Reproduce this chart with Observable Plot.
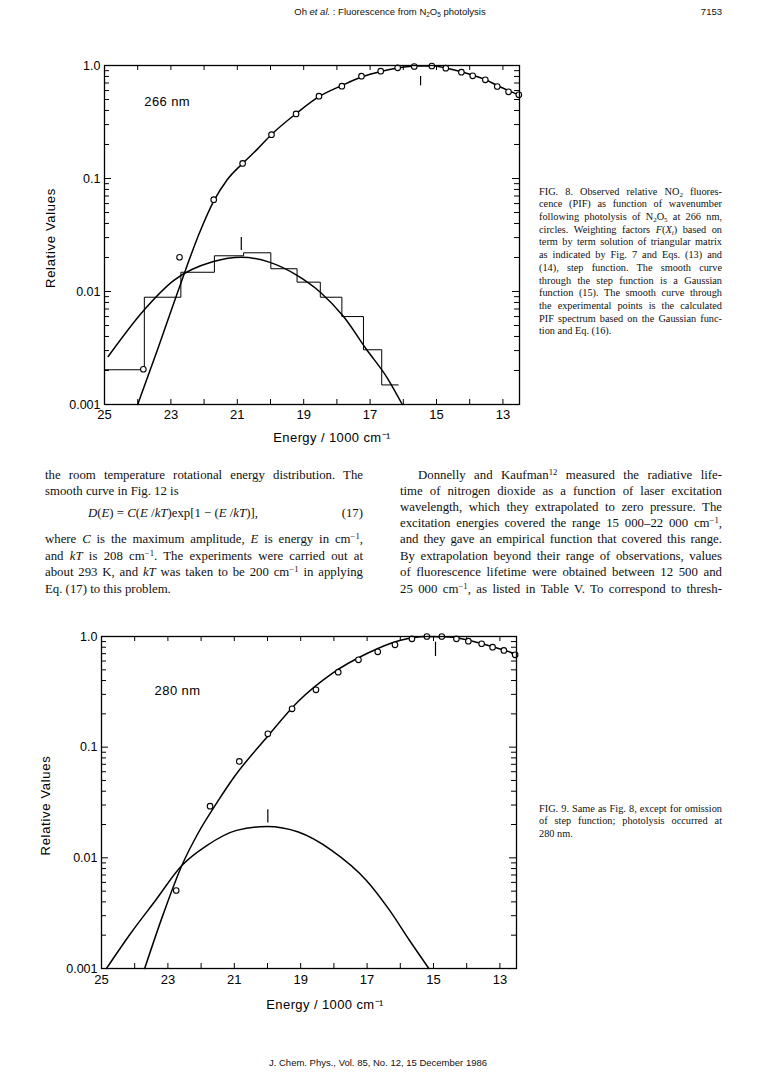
<!DOCTYPE html>
<html><head><meta charset="utf-8">
<script src="https://cdn.jsdelivr.net/npm/d3@7"></script>
<script src="https://cdn.jsdelivr.net/npm/@observablehq/plot@0.6"></script>
<style>
html,body{margin:0;padding:0;background:#fff;}
#page{position:relative;width:767px;height:1079px;overflow:hidden;background:#fff;color:#111;}
.ln{position:absolute;white-space:nowrap;overflow:visible;}
.serif{font-family:"Liberation Serif","DejaVu Serif",serif;}
.sans{font-family:"Liberation Sans",Arial,sans-serif;}
.j{text-align:justify;text-align-last:justify;}
sup{font-size:0.68em;vertical-align:0.5em;line-height:0;}
sub{font-size:0.68em;vertical-align:-0.25em;line-height:0;}
</style></head>
<body><div id="page"></div>
<script>
// ---------- axes ----------
const energyTicks = [25, 23, 21, 19, 17, 15, 13];
const energyMinor = [25, 24, 23, 22, 21, 20, 19, 18, 17, 16, 15, 14, 13];
const valueTicks = [1, 0.1, 0.01, 0.001];
const valueTickLabels = ["1.0", "0.1", "0.01", "0.001"];
const valueMinor = [0.9, 0.8, 0.7, 0.6, 0.5, 0.4, 0.3, 0.2,
  0.09, 0.08, 0.07, 0.06, 0.05, 0.04, 0.03, 0.02,
  0.009, 0.008, 0.007, 0.006, 0.005, 0.004, 0.003, 0.002];
const xTitle = "Energy / 1000 cm\u207B\u00B9";
const yTitle = "Relative Values";

// ---------- Fig. 8 (266 nm) ----------
const circ266E = [23.83, 22.74, 21.71, 20.84, 19.97, 19.23, 18.54, 17.85, 17.26, 16.68, 16.17, 15.67, 15.14, 14.72, 14.25, 13.91, 13.53, 13.17, 12.83, 12.52];
const circ266V = [0.00205, 0.0201, 0.065, 0.136, 0.244, 0.373, 0.535, 0.656, 0.805, 0.891, 0.953, 0.98, 0.99, 0.947, 0.873, 0.81, 0.747, 0.652, 0.585, 0.55];
const calc266E = [24.0, 23.38, 22.79, 22.11, 21.71, 21.31, 20.84, 20.41, 19.97, 19.23, 18.54, 17.85, 17.26, 16.68, 16.17, 15.6, 15.1, 14.72, 14.25, 13.91, 13.53, 13.17, 12.83, 12.52];
const calc266V = [0.001, 0.0032, 0.01, 0.0347, 0.063, 0.097, 0.136, 0.18, 0.245, 0.375, 0.53, 0.665, 0.79, 0.885, 0.95, 0.99, 0.99, 0.95, 0.88, 0.82, 0.75, 0.665, 0.6, 0.55];
const gauss266E = [24.89, 23.82, 22.92, 21.72, 20.88, 20.04, 19.2, 18.5, 17.8, 17.1, 16.5, 16.03];
const gauss266V = [0.00266, 0.0068, 0.0125, 0.0184, 0.0201, 0.0182, 0.0139, 0.00986, 0.006, 0.00305, 0.00175, 0.001];
const step266E = [25, 23.8, 22.7, 21.69, 20.81, 19.99, 19.2, 18.5, 17.85, 17.2, 16.65, 16.15];
const step266V = [0.00203, 0.0089, 0.0148, 0.0207, 0.022, 0.0159, 0.0121, 0.0089, 0.006, 0.00305, 0.00149, 0.00149];
const peak266E = [20.88, 15.48];
const peak266Lo = [0.023, 0.66];
const peak266Hi = [0.030, 0.80];
const label266 = "266 nm";

// ---------- Fig. 9 (280 nm) ----------
const circ280E = [22.75, 21.73, 20.85, 19.99, 19.26, 18.54, 17.87, 17.26, 16.68, 16.16, 15.65, 15.2, 14.75, 14.31, 13.95, 13.55, 13.22, 12.88, 12.54];
const circ280V = [0.00507, 0.0293, 0.0743, 0.132, 0.222, 0.33, 0.476, 0.616, 0.727, 0.841, 0.953, 1.0, 1.0, 0.953, 0.907, 0.86, 0.80, 0.748, 0.683];
const calc280E = [23.70, 23.14, 22.58, 22.1, 21.48, 21.0, 20.02, 19.07, 18.07, 17.02, 16.02, 15.22, 14.52, 13.82, 13.02, 12.52];
const calc280V = [0.001, 0.0031, 0.00853, 0.0165, 0.033, 0.054, 0.123, 0.26, 0.46, 0.698, 0.92, 1.0, 0.99, 0.907, 0.774, 0.698];
const gauss280E = [24.85, 24.13, 23.38, 22.58, 21.83, 20.93, 20.02, 19.07, 18.07, 17.02, 16.32, 15.72, 15.14];
const gauss280V = [0.001, 0.00206, 0.0041, 0.00853, 0.0129, 0.0177, 0.0192, 0.0171, 0.0117, 0.00625, 0.00335, 0.00179, 0.001];
const peak280E = [19.99, 14.94];
const peak280Lo = [0.0206, 0.66];
const peak280Hi = [0.0272, 0.889];
const label280 = "280 nm";

const zip = (E, V) => E.map((e, i) => ({e, v: V[i]}));
const zipSorted = (E, V) => zip(E, V).sort((a, b) => a.e - b.e);
const W = 767;
const tickLabel = new Map(valueTicks.map((v, i) => [v, valueTickLabels[i]]));

function makeChart(o) {
  const fw = W - o.ml - o.mr, fh = o.height - o.mt - o.mb;
  const peaks = o.peakE.map((e, i) => ({e, lo: o.peakLo[i], hi: o.peakHi[i]}));
  const lbl = {fontSize: 13, fill: "#000", fontFamily: "Liberation Sans, Arial, sans-serif"};
  const marks = [
    Plot.tickY(valueTicks, {y: d => d, insetRight: fw - 7, stroke: "#000"}),
    Plot.tickY(valueMinor, {y: d => d, insetRight: fw - 5, stroke: "#000"}),
    Plot.tickY(valueTicks, {y: d => d, insetLeft: fw - 7, stroke: "#000"}),
    Plot.tickY(valueMinor, {y: d => d, insetLeft: fw - 5, stroke: "#000"}),
    Plot.tickX(energyMinor, {x: d => d, insetTop: fh - 5, stroke: "#000"}),
    Plot.tickX(energyMinor, {x: d => d, insetBottom: fh - 5, stroke: "#000"}),
    Plot.axisY(valueTicks, {anchor: "left", tickSize: 0, tickPadding: 4, tickFormat: d => tickLabel.get(d), fontSize: 12.5, label: null, fill: "#000"}),
    Plot.axisX(energyTicks, {anchor: "bottom", tickSize: 0, tickPadding: o.xPad, tickFormat: d => String(d), fontSize: 13, label: null, fill: "#000"}),
    Plot.text([yTitle], {text: d => d, frameAnchor: "left", textAnchor: "middle", lineAnchor: "middle", rotate: -90, dx: o.ydx, dy: o.ydy, ...lbl}),
    Plot.text([xTitle], {text: d => d, frameAnchor: "bottom", textAnchor: "middle", lineAnchor: "middle", dx: o.xdx, dy: o.xdy, ...lbl}),
    Plot.text([o.label], {x: () => o.labelE, y: () => o.labelV, text: d => d, textAnchor: "start", ...lbl}),
    Plot.line(zipSorted(o.gaussE, o.gaussV), {x: "e", y: "v", curve: "monotone-x", stroke: "#000", strokeWidth: 1.5}),
    Plot.line(zipSorted(o.calcE, o.calcV), {x: "e", y: "v", curve: "monotone-x", stroke: "#000", strokeWidth: 1.5}),
    Plot.ruleX(peaks, {x: "e", y1: "lo", y2: "hi", stroke: "#000", strokeWidth: 1.2}),
    Plot.dot(zip(o.circE, o.circV), {x: "e", y: "v", r: 2.8, stroke: "#000", fill: "#fff", strokeWidth: 1.1}),
    Plot.frame({stroke: "#000", strokeWidth: 1.3})
  ];
  if (o.stepE) marks.splice(11, 0, Plot.line(zip(o.stepE, o.stepV), {x: "e", y: "v", curve: "step-after", stroke: "#000", strokeWidth: 1}));
  const svg = Plot.plot({
    width: W, height: o.height,
    marginLeft: o.ml, marginRight: o.mr, marginTop: o.mt, marginBottom: o.mb,
    style: {background: "transparent", fontFamily: "Liberation Sans, Arial, sans-serif", color: "#000", overflow: "visible"},
    x: {type: "linear", domain: [25, 12.5]},
    y: {type: "log", domain: [0.001, 1]},
    marks
  });
  svg.querySelectorAll("text").forEach(t => {
    if (t.textContent === yTitle) t.style.letterSpacing = "0.7px";
    if (t.textContent === xTitle || t.textContent === o.label) t.style.letterSpacing = "0.4px";
  });
  svg.style.position = "absolute";
  svg.style.left = "0px";
  svg.style.top = o.top + "px";
  return svg;
}

const page = document.getElementById("page");
page.appendChild(makeChart({
  top: 40, height: 420, ml: 104, mr: 248, mt: 25, mb: 56, xPad: 5,
  ydx: -54, ydy: 3, xdx: 20, xdy: 33,
  label: label266, labelE: 23.8, labelV: 0.473,
  circE: circ266E, circV: circ266V, calcE: calc266E, calcV: calc266V,
  gaussE: gauss266E, gaussV: gauss266V, stepE: step266E, stepV: step266V,
  peakE: peak266E, peakLo: peak266Lo, peakHi: peak266Hi
}));
page.appendChild(makeChart({
  top: 610, height: 420, ml: 101, mr: 251, mt: 26, mb: 62, xPad: 6,
  ydx: -56, ydy: 3, xdx: 16, xdy: 36,
  label: label280, labelE: 23.4, labelV: 0.32,
  circE: circ280E, circV: circ280V, calcE: calc280E, calcV: calc280V,
  gaussE: gauss280E, gaussV: gauss280V,
  peakE: peak280E, peakLo: peak280Lo, peakHi: peak280Hi
}));

// ---------- page text ----------
function line(html, left, cy, width, opt) {
  const d = document.createElement("div");
  const lh = opt.lh || 16;
  d.className = "ln " + (opt.cls || "serif") + (opt.justify ? " j" : "");
  d.style.left = left + "px";
  d.style.top = (cy - lh / 2) + "px";
  if (width) d.style.width = width + "px";
  d.style.height = lh + "px";
  d.style.lineHeight = lh + "px";
  d.style.fontSize = opt.fs + "px";
  if (opt.align) d.style.textAlign = opt.align;
  if (opt.ls) d.style.letterSpacing = opt.ls;
  d.innerHTML = html;
  page.appendChild(d);
}

// running header / footer
line("Oh <i>et al.</i> : Fluorescence from N<sub>2</sub>O<sub>5</sub> photolysis", 240, 12, 300, {cls: "sans", fs: 9.5, align: "center", lh: 14});
line("7153", 662, 12, 60, {cls: "sans", fs: 9.5, align: "right", lh: 14});
line("J. Chem. Phys., Vol. 85, No. 12, 15 December 1986", 228, 1063, 300, {cls: "sans", fs: 9.5, align: "center", lh: 14});

// Fig. 8 caption
const cap8 = [
  "FIG. 8. Observed relative NO<sub>2</sub> fluores-",
  "cence (PIF) as function of wavenumber",
  "following photolysis of N<sub>2</sub>O<sub>5</sub> at 266 nm,",
  "circles. Weighting factors <i>F</i>(<i>X</i><sub><i>i</i></sub>) based on",
  "term by term solution of triangular matrix",
  "as indicated by Fig. 7 and Eqs. (13) and",
  "(14), step function. The smooth curve",
  "through the step function is a Gaussian",
  "function (15). The smooth curve through",
  "the experimental points is the calculated",
  "PIF spectrum based on the Gaussian func-",
  "tion and Eq. (16)."
];
cap8.forEach((t, i) => line(t, 539, 192 + i * 12.7, 183, {fs: 10.3, lh: 12.7, justify: i < cap8.length - 1}));

const cap9 = [
  "FIG. 9. Same as Fig. 8, except for omission",
  "of step function; photolysis occurred at",
  "280 nm."
];
cap9.forEach((t, i) => line(t, 539, 809 + i * 12.8, 183, {fs: 10.3, lh: 12.7, justify: i < cap9.length - 1}));

// body text
const fsB = 12.8;
const L = 45, LW = 318, R = 400, RW = 322;
const leftLines = [
  ["the room temperature rotational energy distribution. The", 475, true],
  ["smooth curve in Fig. 12 is", 491, false],
  ["where <i>C</i> is the maximum amplitude, <i>E</i> is energy in cm<sup>\u22121</sup>,", 539, true],
  ["and <i>kT</i> is 208 cm<sup>\u22121</sup>. The experiments were carried out at", 555.5, true],
  ["about 293 K, and <i>kT</i> was taken to be 200 cm<sup>\u22121</sup> in applying", 572, true],
  ["Eq. (17) to this problem.", 588.5, false]
];
leftLines.forEach(([t, y, j]) => line(t, L, y, LW, {fs: fsB, lh: 16, justify: j}));
line("<i>D</i>(<i>E</i>) = <i>C</i>(<i>E</i> /<i>kT</i>)exp[1 \u2212 (<i>E</i> /<i>kT</i>)],", 88, 513, null, {fs: fsB, lh: 16});
line("(17)", L, 513, LW, {fs: fsB, lh: 16, align: "right"});

const rightLines = [
  ["time of nitrogen dioxide as a function of laser excitation", 491],
  ["wavelength, which they extrapolated to zero pressure. The", 507],
  ["excitation energies covered the range 15 000\u201322 000 cm<sup>\u22121</sup>,", 523],
  ["and they gave an empirical function that covered this range.", 539],
  ["By extrapolation beyond their range of observations, values", 555.5],
  ["of fluorescence lifetime were obtained between 12 500 and", 572],
  ["25 000 cm<sup>\u22121</sup>, as listed in Table V. To correspond to thresh-", 588.5]
];
line("Donnelly and Kaufman<sup>12</sup> measured the radiative life-", R + 18, 475, RW - 18, {fs: fsB, lh: 16, justify: true});
rightLines.forEach(([t, y]) => line(t, R, y, RW, {fs: fsB, lh: 16, justify: true}));
</script>
</body></html>
